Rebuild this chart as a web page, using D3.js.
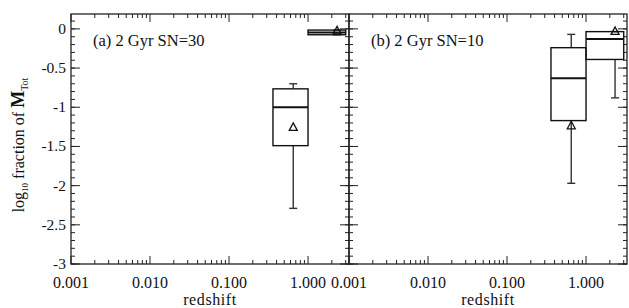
<!DOCTYPE html>
<html>
<head>
<meta charset="utf-8">
<script src="https://cdn.jsdelivr.net/npm/d3@7"></script>
<style>
  body { margin: 0; background: #fff; }
  svg { display: block; }
  svg text { font-family: "Liberation Serif", "Times New Roman", Times, serif; fill: #111; }
  .frame { fill: none; stroke: #222; stroke-width: 1.3; }
  .tick { stroke: #222; stroke-width: 1; }
  .box { fill: none; stroke: #111; stroke-width: 1.4; }
  .median { stroke: #111; stroke-width: 2; }
  .whisker { stroke: #333; stroke-width: 1.4; }
  .mean { fill: none; stroke: #111; stroke-width: 1.3; }
</style>
</head>
<body>
<svg id="chart" width="629" height="308"></svg>
<script>
// panels and redshift bins
const panelTitles = ["(a) 2 Gyr SN=30", "(b) 2 Gyr SN=10"];
const binLow  = [0.36, 1.0];
const binHigh = [1.0, 3.0];
const binMean = [0.65, 2.33];

// log10 fraction of M_Tot, per panel, per bin
const whiskLow  = [[-2.29, -0.075], [-1.97, -0.88]];
const quart1    = [[-1.49, -0.075], [-1.17, -0.39]];
const medians   = [[-1.00, -0.045], [-0.63, -0.13]];
const quart3    = [[-0.765, -0.015], [-0.24, -0.035]];
const whiskHigh = [[-0.70, -0.015], [-0.07, -0.035]];
const means     = [[-1.25, -0.02], [-1.23, -0.025]];

const xTickLabels = ["0.001", "0.010", "0.100", "1.000"];
const yTickValues = [0, -0.5, -1, -1.5, -2, -2.5, -3];
const yTickLabels = ["0", "-0.5", "-1", "-1.5", "-2", "-2.5", "-3"];

const serif = "'Liberation Serif', 'Times New Roman', Times, serif";
const svg = d3.select("#chart").attr("font-family", serif);
const plotTop = 14, plotBottom = 264;
const panelX = [[71, 349], [349, 627]];

const y = d3.scaleLinear().domain([-3, 0.19]).range([plotBottom, plotTop]);

const xMajor = [0.001, 0.01, 0.1, 1];
const xMinor = [];
xMajor.forEach(d => { for (let k = 2; k <= 9; k++) if (d * k <= 3.3) xMinor.push(d * k); });
const yMinor = d3.range(-30, 2).map(d => d / 10);

panelTitles.forEach(function(title, p) {
    const x = d3.scaleLog().domain([0.001, 3.3]).range(panelX[p]);
    const g = svg.append("g");
    const [x0, x1] = panelX[p];

    // ticks on all four sides, pointing inward
    xMajor.forEach(v => {
        g.append("line").attr("class", "tick").attr("x1", x(v)).attr("x2", x(v)).attr("y1", plotBottom).attr("y2", plotBottom - 8);
        g.append("line").attr("class", "tick").attr("x1", x(v)).attr("x2", x(v)).attr("y1", plotTop).attr("y2", plotTop + 8);
    });
    xMinor.forEach(v => {
        g.append("line").attr("class", "tick").attr("x1", x(v)).attr("x2", x(v)).attr("y1", plotBottom).attr("y2", plotBottom - 4);
        g.append("line").attr("class", "tick").attr("x1", x(v)).attr("x2", x(v)).attr("y1", plotTop).attr("y2", plotTop + 4);
    });
    yTickValues.forEach(v => {
        g.append("line").attr("class", "tick").attr("x1", x0).attr("x2", x0 + 9).attr("y1", y(v)).attr("y2", y(v));
        g.append("line").attr("class", "tick").attr("x1", x1).attr("x2", x1 - 9).attr("y1", y(v)).attr("y2", y(v));
    });
    yMinor.forEach(v => {
        g.append("line").attr("class", "tick").attr("x1", x0).attr("x2", x0 + 4).attr("y1", y(v)).attr("y2", y(v));
        g.append("line").attr("class", "tick").attr("x1", x1).attr("x2", x1 - 4).attr("y1", y(v)).attr("y2", y(v));
    });

    g.append("rect").attr("class", "frame")
        .attr("x", x0).attr("y", plotTop).attr("width", x1 - x0).attr("height", plotBottom - plotTop);

    xMajor.forEach((v, i) => {
        g.append("text").attr("x", x(v)).attr("y", 288)
            .attr("text-anchor", "middle").attr("font-size", 16).text(xTickLabels[i]);
    });
    g.append("text").attr("x", (x0 + x1) / 2).attr("y", 305)
        .attr("text-anchor", "middle").attr("font-size", 16)
        .attr("letter-spacing", 0.6).text("redshift");

    g.append("text").attr("x", x0 + 22).attr("y", 46)
        .attr("font-size", 16.5).text(title);

    // boxes
    binLow.forEach(function(lo, b) {
        const bx0 = x(lo), bx1 = x(binHigh[b]), bm = x(binMean[b]);
        g.append("line").attr("class", "whisker")
            .attr("x1", bm).attr("x2", bm).attr("y1", y(quart3[p][b])).attr("y2", y(whiskHigh[p][b]));
        g.append("line").attr("class", "whisker")
            .attr("x1", bm).attr("x2", bm).attr("y1", y(quart1[p][b])).attr("y2", y(whiskLow[p][b]));
        [whiskHigh[p][b], whiskLow[p][b]].forEach(v => {
            g.append("line").attr("class", "whisker")
                .attr("x1", bm - 4).attr("x2", bm + 4).attr("y1", y(v)).attr("y2", y(v));
        });
        g.append("rect").attr("class", "box")
            .attr("x", bx0).attr("width", bx1 - bx0)
            .attr("y", y(quart3[p][b])).attr("height", y(quart1[p][b]) - y(quart3[p][b]));
        g.append("line").attr("class", "median")
            .attr("x1", bx0).attr("x2", bx1).attr("y1", y(medians[p][b])).attr("y2", y(medians[p][b]));
        const my = y(means[p][b]);
        g.append("path").attr("class", "mean")
            .attr("d", `M${bm - 4},${my + 3.5}L${bm + 4},${my + 3.5}L${bm},${my - 4}Z`);
    });
});

// y axis labels (left panel only)
yTickValues.forEach((v, i) => {
    svg.append("text").attr("x", 66).attr("y", y(v) + 5)
        .attr("text-anchor", "end").attr("font-size", 15.5).text(yTickLabels[i]);
});

const yl = svg.append("text").attr("transform", "translate(24,145) rotate(-90)")
    .attr("text-anchor", "middle").attr("font-size", 16);
yl.append("tspan").text("log");
yl.append("tspan").attr("font-size", 9).attr("dy", 4).text("10");
yl.append("tspan").attr("dy", -4).text(" fraction of ");
yl.append("tspan").attr("font-weight", "bold").attr("font-size", 18).text("M");
yl.append("tspan").attr("font-size", 10).attr("dy", 4).text("Tot");
</script>
</body>
</html>
